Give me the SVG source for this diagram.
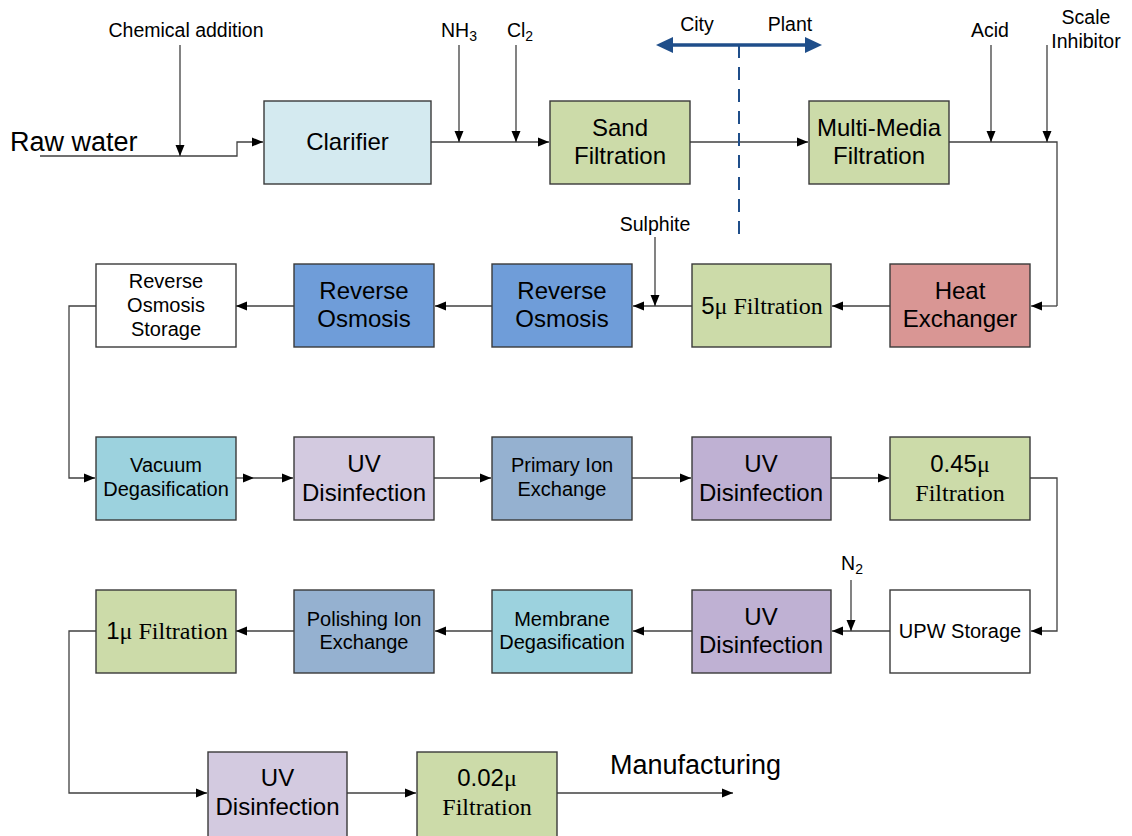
<svg xmlns="http://www.w3.org/2000/svg" width="1132" height="836" viewBox="0 0 1132 836">
<defs>
<marker id="ah" markerUnits="userSpaceOnUse" markerWidth="12" markerHeight="10" refX="11" refY="5" orient="auto"><path d="M0,0.5 L11,5 L0,9.5 z" fill="#000"/></marker>
<style>
.box{stroke:#3a3a3a;stroke-width:1.4}
.c{fill:none;stroke:#404040;stroke-width:1.3}
.a{fill:none;stroke:#404040;stroke-width:1.3;marker-end:url(#ah)}
text{font-family:"Liberation Sans",Arial,sans-serif;fill:#000;text-anchor:middle}
.L{font-size:24px}
.M{font-size:20px}
.S{font-size:19.5px}
.sf{font-family:"Liberation Serif","Times New Roman",serif}
.green{fill:#CCDBA9}
.uv1{fill:#D3CAE0}
.uv2{fill:#BFB1D3}
.deg{fill:#9CD2DE}
.ion{fill:#95B1D0}
.ro{fill:#6F9DD9}
</style>
</defs>
<rect width="1132" height="836" fill="#fff"/>

<g id="connectors">
<path class="a" d="M40,156 H237 V142 H263"/>
<path class="a" d="M180,45 V156"/>
<path class="a" d="M431,142 H549"/>
<path class="a" d="M459,45 V142"/>
<path class="a" d="M516,45 V142"/>
<path class="a" d="M690,142 H808"/>
<path class="c" d="M949,142 H1057 V306"/>
<path class="a" d="M1057,306 H1031"/>
<path class="a" d="M991,45 V142"/>
<path class="a" d="M1047,45 V142"/>
<path class="a" d="M890,306 H832"/>
<path class="a" d="M692,306 H633"/>
<path class="a" d="M655,237 V306"/>
<path class="a" d="M492,306 H435"/>
<path class="a" d="M294,306 H236"/>
<path class="a" d="M96,306 H69 V478 H95"/>
<path class="a" d="M236,478 H254"/>
<path class="a" d="M254,478 H293"/>
<path class="a" d="M434,478 H491"/>
<path class="a" d="M632,478 H691"/>
<path class="a" d="M831,478 H889"/>
<path class="a" d="M1030,478 H1057 V631 H1031"/>
<path class="a" d="M890,631 H832"/>
<path class="a" d="M851,580 V631"/>
<path class="a" d="M692,631 H633"/>
<path class="a" d="M492,631 H435"/>
<path class="a" d="M294,631 H236"/>
<path class="a" d="M96,631 H69 V793 H207"/>
<path class="a" d="M347,793 H416"/>
<path class="a" d="M557,793 H733"/>
<g id="city-plant">
<line x1="670" y1="45" x2="808" y2="45" stroke="#1F4E8A" stroke-width="3.5"/>
<polygon points="656,45 673,37 673,53" fill="#1F4E8A"/>
<polygon points="822,45 805,37 805,53" fill="#1F4E8A"/>
<line x1="739" y1="45" x2="739" y2="234" stroke="#1F4E8A" stroke-width="2" stroke-dasharray="13,9"/>
</g>
</g>

<g id="labels">
<text x="10" y="151" style="font-size:27px;text-anchor:start">Raw water</text>
<text x="186" y="37" class="S">Chemical addition</text>
<text x="459" y="37" class="S">NH<tspan font-size="14" dy="4">3</tspan></text>
<text x="520" y="37" class="S">Cl<tspan font-size="14" dy="4">2</tspan></text>
<text x="697" y="31" class="S">City</text>
<text x="790" y="31" class="S">Plant</text>
<text x="990" y="37" class="S">Acid</text>
<text x="1086" y="24" class="S">Scale</text>
<text x="1086" y="48" class="S">Inhibitor</text>
<text x="655" y="231" class="S">Sulphite</text>
<text x="852" y="570" class="S">N<tspan font-size="14" dy="4">2</tspan></text>
<text x="610" y="774" style="font-size:27px;text-anchor:start">Manufacturing</text>
</g>

<g id="clarifier"><rect class="box" x="264" y="101" width="167" height="83" fill="#D4EAF0"/><text class="L" x="347.5" y="150">Clarifier</text></g>
<g id="sand"><rect class="box green" x="550" y="101" width="140" height="83"/><text class="L" x="620" y="136">Sand</text><text class="L" x="620" y="164">Filtration</text></g>
<g id="multimedia"><rect class="box green" x="809" y="101" width="140" height="83"/><text class="L" x="879" y="136">Multi-Media</text><text class="L" x="879" y="164">Filtration</text></g>

<g id="ro-storage"><rect class="box" x="96" y="264" width="140" height="83" fill="#fff"/><text class="M" x="166" y="288">Reverse</text><text class="M" x="166" y="312">Osmosis</text><text class="M" x="166" y="336">Storage</text></g>
<g id="ro2"><rect class="box ro" x="294" y="264" width="140" height="83"/><text class="L" x="364" y="299">Reverse</text><text class="L" x="364" y="327">Osmosis</text></g>
<g id="ro1"><rect class="box ro" x="492" y="264" width="140" height="83"/><text class="L" x="562" y="299">Reverse</text><text class="L" x="562" y="327">Osmosis</text></g>
<g id="f5"><rect class="box green" x="692" y="264" width="139" height="83"/><text class="L" x="762" y="314">5<tspan class="sf">μ Filtration</tspan></text></g>
<g id="heat"><rect class="box" x="890" y="264" width="140" height="83" fill="#D99694"/><text class="L" x="960" y="299">Heat</text><text class="L" x="960" y="327">Exchanger</text></g>

<g id="vacuum"><rect class="box deg" x="96" y="437" width="140" height="83"/><text class="M" x="166" y="472">Vacuum</text><text class="M" x="166" y="496">Degasification</text></g>
<g id="uv-a"><rect class="box uv1" x="294" y="437" width="140" height="83"/><text class="L" x="364" y="472">UV</text><text class="L" x="364" y="501">Disinfection</text></g>
<g id="primary-ion"><rect class="box ion" x="492" y="437" width="140" height="83"/><text class="M" x="562" y="472">Primary Ion</text><text class="M" x="562" y="496">Exchange</text></g>
<g id="uv-b"><rect class="box uv2" x="692" y="437" width="139" height="83"/><text class="L" x="761" y="472">UV</text><text class="L" x="761" y="501">Disinfection</text></g>
<g id="f045"><rect class="box green" x="890" y="437" width="140" height="83"/><text class="L" x="960" y="472">0.45<tspan class="sf">μ</tspan></text><text class="L sf" x="960" y="501">Filtration</text></g>

<g id="f1"><rect class="box green" x="96" y="590" width="140" height="83"/><text class="L" x="167" y="639">1<tspan class="sf">μ Filtration</tspan></text></g>
<g id="polishing-ion"><rect class="box ion" x="294" y="590" width="140" height="83"/><text class="M" x="364" y="626">Polishing Ion</text><text class="M" x="364" y="649">Exchange</text></g>
<g id="membrane"><rect class="box deg" x="492" y="590" width="140" height="83"/><text class="M" x="562" y="626">Membrane</text><text class="M" x="562" y="649">Degasification</text></g>
<g id="uv-c"><rect class="box uv2" x="692" y="590" width="139" height="83"/><text class="L" x="761" y="625">UV</text><text class="L" x="761" y="653">Disinfection</text></g>
<g id="upw"><rect class="box" x="890" y="590" width="140" height="83" fill="#fff"/><text class="M" x="960" y="638">UPW Storage</text></g>

<g id="uv-d"><rect class="box uv1" x="208" y="752" width="139" height="90"/><text class="L" x="277.5" y="786">UV</text><text class="L" x="277.5" y="815">Disinfection</text></g>
<g id="f002"><rect class="box green" x="417" y="752" width="140" height="90"/><text class="L" x="487" y="786">0.02<tspan class="sf">μ</tspan></text><text class="L sf" x="487" y="815">Filtration</text></g>
</svg>
